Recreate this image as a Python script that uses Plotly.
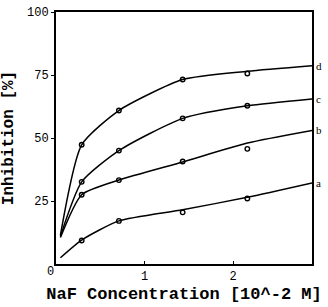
import plotly.graph_objects as go

# Measured points (open circles)
pt_x = [0.29, 0.71, 1.43, 2.16]
pt_a = [9.3, 17.1, 20.5, 26.0]
pt_b = [27.5, 33.3, 40.7, 45.7]
pt_c = [32.6, 45.0, 57.8, 62.8]
pt_d = [47.3, 60.9, 73.2, 75.6]

# Fitted curves
cx = [0.05, 0.29, 0.71, 1.43, 2.16, 2.89]
curve_a = [2.5, 9.5, 17.1, 21.5, 26.5, 32.2]
curve_b = [10.5, 27.5, 33.3, 40.5, 48.0, 53.0]
curve_c = [11.0, 32.6, 45.0, 57.8, 62.8, 65.5]
curve_d = [11.5, 47.3, 60.9, 73.2, 76.5, 78.7]
labels = ["a", "b", "c", "d"]

x_ticks = [1, 2]
y_ticks = [25, 50, 75, 100]

fig = go.Figure()
curves = [curve_a, curve_b, curve_c, curve_d]
points = [pt_a, pt_b, pt_c, pt_d]
for lab, cy, py in zip(labels, curves, points):
    fig.add_trace(go.Scatter(x=cx, y=cy, mode="lines",
                             line=dict(color="black", width=1.5, shape="spline", smoothing=0.6),
                             showlegend=False, hoverinfo="skip"))
    fig.add_trace(go.Scatter(x=pt_x, y=py, mode="markers",
                             marker=dict(symbol="circle-open", size=4.5, color="black",
                                         line=dict(width=1.4, color="black")),
                             showlegend=False))
    fig.add_annotation(x=cx[-1], y=cy[-1], text=lab, showarrow=False,
                       xanchor="left", xshift=2, yanchor="middle",
                       font=dict(family="Liberation Serif", size=11, color="black"))

fig.add_annotation(x=0, y=0, xref="x", yref="y", text="0", showarrow=False,
                   xshift=-6, yshift=-8,
                   font=dict(family="Liberation Mono", size=12, color="black"))

fig.update_layout(
    width=328, height=307,
    margin=dict(l=52, r=16, t=6, b=43),
    plot_bgcolor="white", paper_bgcolor="white",
    font=dict(family="Liberation Mono", color="black"),
)
fig.update_xaxes(range=[0, 2.89], tickvals=x_ticks, ticktext=[str(v) for v in x_ticks],
                 ticks="inside", ticklen=3, tickcolor="black",
                 showline=True, linecolor="black", linewidth=2, mirror=True,
                 showgrid=False, zeroline=False,
                 tickfont=dict(family="Liberation Mono", size=12),
                 title=dict(text="<b>NaF Concentration [10^-2 M]</b>", standoff=4,
                            font=dict(family="Liberation Mono", size=17)))
fig.update_yaxes(range=[0, 100], tickvals=y_ticks,
                 ticks="outside", ticklen=3, tickcolor="black",
                 showline=True, linecolor="black", linewidth=2, mirror=True,
                 showgrid=False, zeroline=False,
                 tickfont=dict(family="Liberation Mono", size=12),
                 title=dict(text="<b>Inhibition [%]</b>", standoff=10,
                            font=dict(family="Liberation Mono", size=16)))

fig.write_html("out.html")
